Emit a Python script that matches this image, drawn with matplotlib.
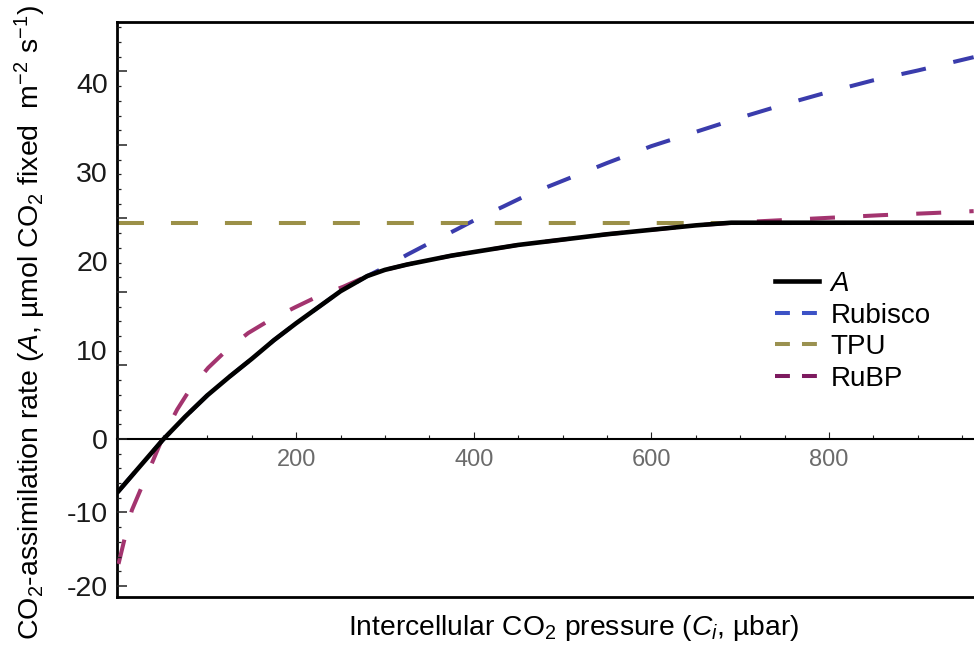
import numpy as np
import matplotlib
matplotlib.use('Agg')
import matplotlib.pyplot as plt
from matplotlib.lines import Line2D
from matplotlib.ticker import NullLocator, FixedLocator

plt.rcParams['font.family'] = ['Liberation Sans', 'DejaVu Sans']
plt.rcParams['mathtext.fontset'] = 'custom'
plt.rcParams['mathtext.rm'] = 'Liberation Sans'
plt.rcParams['mathtext.it'] = 'Liberation Sans:italic'
plt.rcParams['mathtext.bf'] = 'Liberation Sans:bold'
plt.rcParams['axes.unicode_minus'] = False

# ---------------- data ----------------
ci_a = [0, 25, 50, 75, 100, 125, 150, 175, 200, 225, 250, 280, 300, 325, 350,
        375, 400, 450, 500, 550, 600, 650, 690, 750, 850, 963]
a_rate = [-7.1, -3.6, -0.1, 2.5, 4.9, 7.0, 9.0, 11.1, 13.0, 14.8, 16.6, 18.3,
          19.0, 19.6, 20.1, 20.6, 21.0, 21.8, 22.4, 23.0, 23.5, 24.0, 24.3,
          24.3, 24.3, 24.3]

ci_rubisco = [0, 25, 50, 75, 100, 125, 150, 175, 200, 225, 250, 280, 300, 325,
              350, 380, 405, 433, 460, 490, 550, 600, 650, 700, 750, 800, 850,
              900, 963]
rubisco = [-7.1, -3.6, -0.1, 2.5, 4.9, 7.0, 9.0, 11.1, 13.0, 14.8, 16.6, 18.3,
           19.3, 20.7, 22.0, 23.5, 24.8, 26.1, 27.4, 28.6, 31.0, 32.9, 34.5,
           36.1, 37.6, 39.0, 40.3, 41.4, 42.9]

ci_rubp = [0, 8, 15, 28, 39, 50, 66, 80, 101, 122, 146, 171, 199, 224, 253, 280,
           300, 325, 350, 375, 400, 450, 500, 550, 600, 650, 700, 750, 800, 860,
           920, 963]
rubp = [-17.0, -13.0, -9.7, -6.0, -2.9, 0.2, 3.3, 5.5, 8.0, 10.0, 11.9, 13.4,
        14.8, 16.0, 17.1, 18.3, 19.0, 19.6, 20.1, 20.6, 21.0, 21.8, 22.4, 23.0,
        23.5, 24.0, 24.35, 24.6, 24.85, 25.15, 25.4, 25.6]

tpu_level = 24.3

x_tick_values = [200, 400, 600, 800]
y_tick_values = [-20, -10, 0, 10, 20, 30, 40]
series_names = ['A', 'Rubisco', 'TPU', 'RuBP']

# ---------------- styling ----------------
W, H = 974, 646
fig = plt.figure(figsize=(W / 100, H / 100), dpi=100)
fig.patch.set_facecolor('white')

left_px, right_px, top_px, bot_px = 117, 974, 22, 597
ax = fig.add_axes([left_px / W, 1 - bot_px / H, (right_px - left_px) / W,
                   (bot_px - top_px) / H])

NEG = 7.35 / 8.9


def fwd(y):
    y = np.asarray(y, dtype=float)
    return np.where(y >= 0, y, y * NEG)


def inv(v):
    v = np.asarray(v, dtype=float)
    return np.where(v >= 0, v, v / NEG)


ax.set_yscale('function', functions=(fwd, inv))
ax.set_xlim(-1.7, 963.4)
ax.set_ylim(-21.5, 46.85)

c_blue = '#3a3cac'
c_olive = '#9b9048'
c_purple = '#a3346f'

lw_dash = 2.9
ax.plot(ci_rubisco, rubisco, color=c_blue, lw=lw_dash, dashes=(6.2, 7.0),
        dash_capstyle='butt', zorder=2)
ax.axhline(tpu_level, color=c_olive, lw=lw_dash, dashes=(6.7, 6.7),
           dash_capstyle='butt', zorder=2)
ax.plot(ci_rubp, rubp, color=c_purple, lw=lw_dash, dashes=(6.2, 7.0),
        dash_capstyle='butt', zorder=3)
ax.plot(ci_a, a_rate, color='black', lw=3.3, zorder=4)

# spines
ax.spines['right'].set_visible(False)
ax.spines['left'].set_linewidth(2.0)
ax.spines['top'].set_linewidth(2.0)
ax.spines['bottom'].set_position(('data', 0))
ax.spines['bottom'].set_linewidth(1.5)

# x axis on the zero line
ax.set_xticks(x_tick_values)
ax.xaxis.set_minor_locator(FixedLocator(np.arange(50, 963, 50)))
ax.tick_params(axis='x', which='major', direction='in', length=5, width=0.8,
               pad=7.5, labelsize=17, labelcolor='#6b6b6b', color='#222222')
ax.tick_params(axis='x', which='minor', direction='in', length=3.2, width=0.8,
               color='#222222')

# y labels at label positions
ax.set_yticks(y_tick_values)
ax.yaxis.set_minor_locator(NullLocator())
ax.tick_params(axis='y', which='major', length=0, pad=6.5, labelsize=20.5,
               labelcolor='#1a1a1a')

# tick marks of the frame (evenly spaced marks of the original)
tw = ax.twinx()
tw.set_ylim(-21.5, (439 - 22) / 7.35)
tw.yaxis.tick_left()
tw.set_yticks(np.arange(-20, 51, 10))
tw.yaxis.set_minor_locator(FixedLocator(np.arange(-20, 57, 2)))
tw.tick_params(axis='y', which='both', direction='in', labelleft=False,
               labelright=False, left=True, right=False, color='#222222')
tw.tick_params(axis='y', which='major', length=7.5, width=1.1)
tw.tick_params(axis='y', which='minor', length=3.0, width=0.9)
for s in ['left', 'top', 'right']:
    tw.spines[s].set_visible(False)
tw.spines['bottom'].set_linewidth(2.0)

# axis labels
ax.set_xlabel('Intercellular CO$_2$ pressure ($C_i$, µbar)', fontsize=20.3)
ax.xaxis.set_label_coords(0.533, -0.027)
ax.set_ylabel('CO$_2$-assimilation rate ($A$, µmol CO$_2$ fixed  m$^{-2}$ s$^{-1}$)',
              fontsize=20.5)
ax.yaxis.set_label_coords(-0.08, 0.478)

# legend
leg_handles = [
    Line2D([], [], color='black', lw=3.3),
    Line2D([], [], color='#3c52c6', lw=lw_dash, dashes=(3.7, 3.0)),
    Line2D([], [], color='#9a9150', lw=lw_dash, dashes=(3.7, 3.0)),
    Line2D([], [], color='#7d1a5f', lw=lw_dash, dashes=(3.7, 3.0)),
]
leg = fig.legend(leg_handles, series_names, loc='upper left',
                 bbox_to_anchor=(775 / W, 1 - 271 / H), bbox_transform=fig.transFigure,
                 frameon=False, fontsize=20, borderpad=0, borderaxespad=0,
                 handlelength=1.6, handletextpad=0.4, labelspacing=0.2)
leg.get_texts()[0].set_fontstyle('italic')

fig.savefig('out.png', dpi=100, facecolor='white')
